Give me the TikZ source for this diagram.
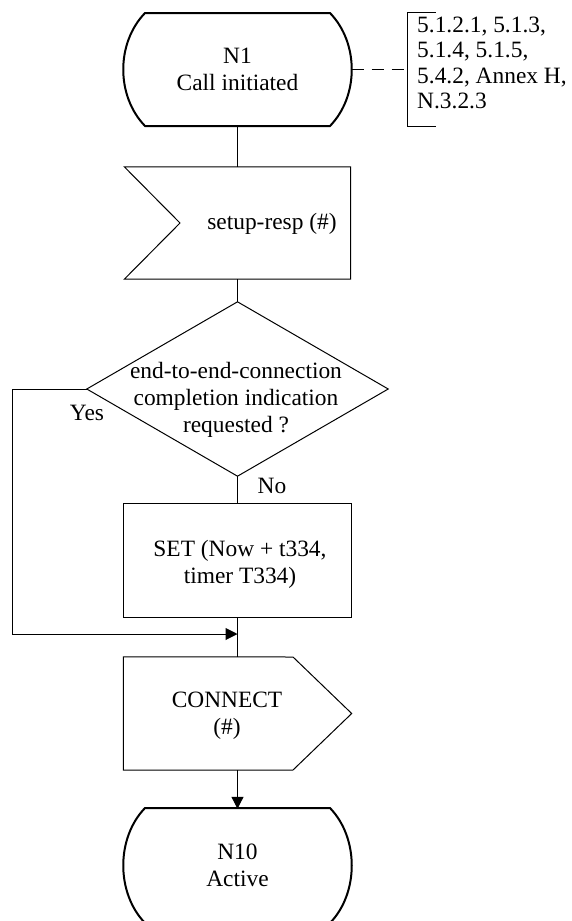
\documentclass[tikz,border=0pt]{standalone}
\usepackage{fontspec}
\setmainfont{Liberation Serif}
\usetikzlibrary{arrows.meta}
\begin{document}
\begin{tikzpicture}[x=1pt,y=-1pt,
  every node/.style={font=\fontsize{23.4}{27}\selectfont, inner sep=0pt, align=center},
  frame/.style={draw=none, minimum width=228pt, minimum height=113pt},
  line/.style={line width=1pt, draw=black},
  statel/.style={line width=2pt, draw=black},
  arr/.style={-{Triangle[length=12pt,width=12pt]}}]
\fill[white] (0,0) rectangle (571,921);
\useasboundingbox (0,0) rectangle (571,921);

% N1 state
\node[frame] (n1) at (237.5,69.5) {N1\\Call initiated};
\draw[statel] (145,13) -- (330,13) .. controls (359,43) and (359,96) .. (330,126)
  -- (145,126) .. controls (116,96) and (116,43) .. (145,13) -- cycle;

% reference bracket
\node[draw=none, minimum width=28pt, minimum height=113pt] (bk) at (421.5,69.5) {};
\draw[line] (bk.north east) -- (bk.north west) -- (bk.south west) -- (bk.south east);
\node[anchor=west, align=left, font=\fontsize{23.4}{25.4}\selectfont] (refs) at (417,63)
  {5.1.2.1, 5.1.3,\\5.1.4, 5.1.5,\\5.4.2, Annex H,\\N.3.2.3};
\draw[line, dash pattern=on 12pt off 8pt] (n1.east) -- (bk.west);

% input signal
\node[frame, minimum width=226pt, minimum height=112pt] (inp) at (237.5,223) {};
\draw[line] (inp.north west) -- (inp.north east) -- (inp.south east) -- (inp.south west)
  -- (180,223) -- cycle;
\node (inpt) at (272,224) {setup-resp (\#)};

% decision
\node[frame, minimum width=301pt, minimum height=174pt] (dec) at (237.5,389) {};
\draw[line] (dec.north) -- (dec.east) -- (dec.south) -- (dec.west) -- cycle;
\node (dect) at (236,400) {end-to-end-connection\\completion indication\\requested ?};
\node (yes) at (87,413) {Yes};
\node (no) at (272,486) {No};

% task
\node[frame, minimum width=227pt, minimum height=113pt] (set) at (237.5,560.5) {};
\draw[line] (set.north west) rectangle (set.south east);
\node (sett) at (240,564) {SET (Now + t334,\\timer T334)};

% output signal
\node[frame, minimum width=228pt, minimum height=113pt] (out) at (237.5,713.5) {};
\draw[line] (out.north west) -- (293,657) -- (out.east) -- (293,770) -- (out.south west) -- cycle;
\node (outt) at (227,716) {CONNECT\\(\#)};

% N10 state
\node[frame] (n10) at (237.5,865.5) {N10\\Active};
\draw[statel] (145,808) -- (330,808) .. controls (359,838) and (359,893) .. (330,923)
  -- (145,923) .. controls (116,893) and (116,838) .. (145,808) -- cycle;

% connectors
\coordinate (j) at (237.5,634);
\coordinate (yl) at (12,389);
\draw[line] (n1.south) -- (inp.north);
\draw[line] (inp.south) -- (dec.north);
\draw[line] (dec.south) -- (set.north);
\draw[line] (set.south) -- (out.north);
\draw[line, arr] (dec.west) -- (yl) |- (j);
\draw[line, arr] (out.south) -- (n10.north);
\end{tikzpicture}
\end{document}
